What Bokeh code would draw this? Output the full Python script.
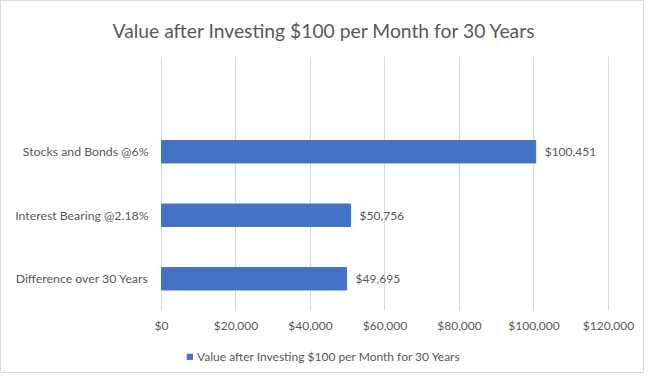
from bokeh.plotting import figure
from bokeh.models import Range1d, FixedTicker, NumeralTickFormatter, Title, ColumnDataSource, Legend
from bokeh.core.properties import value
from bokeh.embed import file_html
from bokeh.resources import INLINE

# Data (listed bottom-to-top as drawn)
categories = ["Difference over 30 Years", "Interest Bearing @2.18%", "Stocks and Bonds @6%"]
values = [49695, 50756, 100451]
x_ticks = [0, 20000, 40000, 60000, 80000, 100000, 120000]
series_name = "Value after Investing $100 per Month for 30 Years"
title_text = "Value after Investing $100 per Month for 30 Years"

FONT = "Lato"
GREY = "#595959"
BAR = "#4472c4"

positions = list(range(len(categories)))
src = ColumnDataSource(dict(
    y=positions,
    v=values,
    lab=[f"${v:,}" for v in values],
))

# The frame covers the whole canvas below the title; the plot area proper is
# x 0..120000, y -0.5..3.5 (one empty slot on top). Room around it holds the
# category labels, tick labels and legend.
p = figure(width=642, height=371, output_backend="svg", toolbar_location=None,
           x_range=Range1d(-42953, 129396), y_range=Range1d(-1.476, 3.5),
           min_border_left=0, min_border_right=0, min_border_top=55, min_border_bottom=0,
           frame_width=642, frame_height=316)
p.title.visible = False
p.outline_line_color = None
p.background_fill_color = "white"
p.border_fill_color = "white"

r = p.hbar(y="y", right="v", left=0, height=0.353, source=src, color=BAR)
p.text(x="v", y="y", text="lab", source=src, x_offset=9, text_baseline="middle",
       text_align="left", text_font=value(FONT), text_font_size="12px", text_color=GREY)

# x axis, fixed at the bottom of the plot area
p.xaxis.fixed_location = -0.5
p.xaxis.ticker = FixedTicker(ticks=x_ticks)
p.xaxis.formatter = NumeralTickFormatter(format="$0,0")
p.xaxis.axis_line_color = None
p.xaxis.major_tick_line_color = None
p.xaxis.minor_tick_line_color = None
p.xaxis.major_tick_out = 0
p.xaxis.major_tick_in = 0
p.xaxis.minor_tick_out = 0
p.xaxis.major_label_standoff = 7
p.xaxis.major_label_text_font = FONT
p.xaxis.major_label_text_font_size = "12px"
p.xaxis.major_label_text_color = GREY

# y axis, fixed at x = 0
p.yaxis.fixed_location = 0
p.yaxis.ticker = FixedTicker(ticks=positions)
p.yaxis.major_label_overrides = {i: c for i, c in zip(positions, categories)}
p.yaxis.axis_line_color = None
p.yaxis.major_tick_line_color = None
p.yaxis.minor_tick_line_color = None
p.yaxis.major_tick_out = 0
p.yaxis.major_tick_in = 0
p.yaxis.minor_tick_out = 0
p.yaxis.major_label_standoff = 13
p.yaxis.major_label_text_font = FONT
p.yaxis.major_label_text_font_size = "12.3px"
p.yaxis.major_label_text_color = GREY

p.xgrid.grid_line_color = "#d9d9d9"
p.xgrid.cross_bounds = (-0.5, 3.5)
p.ygrid.grid_line_color = None

# title
t = Title(text=title_text, align="left", offset=111, standoff=30, text_font=FONT,
          text_font_size="19.3px", text_font_style="normal", text_color=GREY)
p.add_layout(t, "above")

# legend (inside the lower part of the frame)
lg = Legend(items=[(series_name, [r])], location=(185, 8.5), orientation="horizontal")
lg.padding = 0
lg.margin = 0
lg.spacing = 0
lg.border_line_color = None
lg.background_fill_alpha = 0
lg.glyph_width = 7
lg.glyph_height = 7
lg.label_height = 12
lg.label_standoff = 4
lg.label_text_font = FONT
lg.label_text_font_size = "12px"
lg.label_text_color = GREY
p.add_layout(lg, "center")

p.styles = {"border": "1px solid #d9d9d9", "box-sizing": "border-box"}

open("out.html", "w").write(file_html(p, INLINE))
